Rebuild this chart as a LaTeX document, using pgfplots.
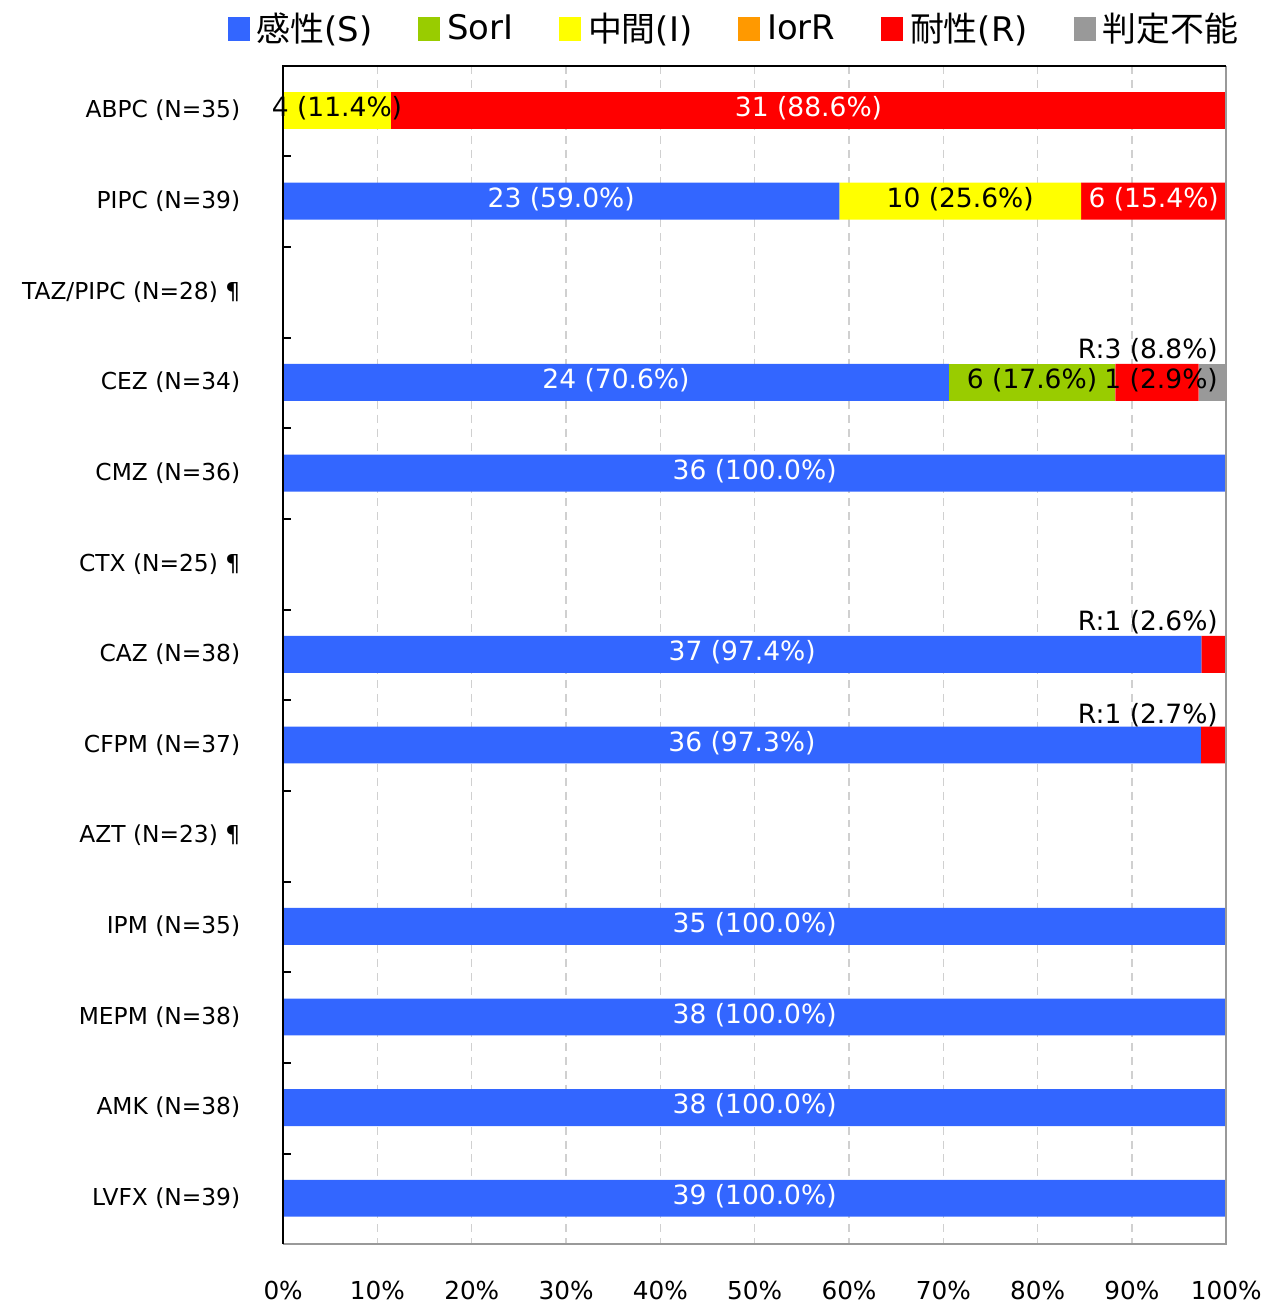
\documentclass[border=0pt]{standalone}
\usepackage{fontspec}
\setmainfont{DejaVu Sans}
\newfontfamily\cjk{Noto Sans CJK JP}
\usepackage{pgfplots}
\pgfplotsset{compat=1.18}
\usetikzlibrary{calc}

\definecolor{cS}{RGB}{51,102,255}
\definecolor{cSI}{RGB}{153,204,0}
\definecolor{cI}{RGB}{255,255,0}
\definecolor{cIR}{RGB}{255,153,0}
\definecolor{cR}{RGB}{255,0,0}
\definecolor{cNA}{RGB}{153,153,153}
\definecolor{cGrid}{RGB}{208,208,208}
\tikzset{lbl/.style={font=\fontsize{13.3}{15}\selectfont, inner sep=0pt, yshift=1pt}}

\begin{document}
\begin{tikzpicture}
\begin{axis}[
  xbar stacked, bar width=0.407,
  width=473pt, height=591pt, scale only axis,
  xmin=0, xmax=100, ymin=-0.493, ymax=12.507, y dir=reverse,
  axis line style={draw=none},
  xtick={0,10,...,100},
  xticklabels={0\%,10\%,20\%,30\%,40\%,50\%,60\%,70\%,80\%,90\%,100\%},
  xticklabel style={font=\fontsize{12.4}{14}\selectfont, yshift=-15pt},
  xmajorgrids, major grid style={draw=cGrid, dash pattern=on 4pt off 3pt, line width=0.6pt},
  major tick length=0pt, ytick pos=left,
  tick style={black, line width=1pt},
  ytick={0,...,12},
  yticklabels={ABPC (N=35), PIPC (N=39), TAZ/PIPC (N=28) ¶, CEZ (N=34), CMZ (N=36), CTX (N=25) ¶, CAZ (N=38), CFPM (N=37), AZT (N=23) ¶, IPM (N=35), MEPM (N=38), AMK (N=38), LVFX (N=39)},
  yticklabel style={font=\fontsize{11.7}{14}\selectfont, xshift=-18pt},
  extra y ticks={0.507,1.507,...,11.507}, extra y tick labels={},
  extra y tick style={major tick length=4pt, tick align=inside},
  legend columns=-1,
  legend style={draw=none, at={(0,1)}, anchor=west, xshift=-28pt, yshift=18.5pt,
    font=\fontsize{17}{20}\selectfont, inner sep=0pt,
    /tikz/every odd column/.append style={column sep=1.5pt},
    /tikz/every even column/.append style={column sep=21pt}},
  legend image code/.code={\fill (0pt,-6pt) rectangle (11pt,6pt);},
]
\addplot[fill=cS, draw=none] coordinates {(0,0) (58.97,1) (0,2) (70.59,3) (100,4) (0,5) (97.37,6) (97.30,7) (0,8) (100,9) (100,10) (100,11) (100,12)};
\addlegendentry{{\cjk 感性}(S)}
\addplot[fill=cSI, draw=none] coordinates {(0,0) (0,1) (0,2) (17.65,3) (0,4) (0,5) (0,6) (0,7) (0,8) (0,9) (0,10) (0,11) (0,12)};
\addlegendentry{SorI}
\addplot[fill=cI, draw=none] coordinates {(11.43,0) (25.64,1) (0,2) (0,3) (0,4) (0,5) (0,6) (0,7) (0,8) (0,9) (0,10) (0,11) (0,12)};
\addlegendentry{{\cjk 中間}(I)}
\addplot[fill=cIR, draw=none] coordinates {(0,0) (0,1) (0,2) (0,3) (0,4) (0,5) (0,6) (0,7) (0,8) (0,9) (0,10) (0,11) (0,12)};
\addlegendentry{IorR}
\addplot[fill=cR, draw=none] coordinates {(88.57,0) (15.38,1) (0,2) (8.82,3) (0,4) (0,5) (2.63,6) (2.70,7) (0,8) (0,9) (0,10) (0,11) (0,12)};
\addlegendentry{{\cjk 耐性}(R)}
\addplot[fill=cNA, draw=none] coordinates {(0,0) (0,1) (0,2) (2.94,3) (0,4) (0,5) (0,6) (0,7) (0,8) (0,9) (0,10) (0,11) (0,12)};
\addlegendentry{{\cjk 判定不能}}

\coordinate (l1) at (axis cs:5.71,0);
\coordinate (l2) at (axis cs:55.71,0);
\coordinate (l3) at (axis cs:29.49,1);
\coordinate (l4) at (axis cs:71.79,1);
\coordinate (l5) at (axis cs:92.31,1);
\coordinate (l6) at (axis cs:35.29,3);
\coordinate (l7) at (axis cs:79.41,3);
\coordinate (l8) at (axis cs:99.15,3);
\coordinate (l9) at (axis cs:99.15,2.67);
\coordinate (l10) at (axis cs:50,4);
\coordinate (l11) at (axis cs:48.68,6);
\coordinate (l12) at (axis cs:99.15,5.67);
\coordinate (l13) at (axis cs:48.65,7);
\coordinate (l14) at (axis cs:99.15,6.69);
\coordinate (l15) at (axis cs:50,9);
\coordinate (l16) at (axis cs:50,10);
\coordinate (l17) at (axis cs:50,11);
\coordinate (l18) at (axis cs:50,12);
\end{axis}
\node[lbl, text=black] at (l1) {4 (11.4\%)};
\node[lbl, text=white] at (l2) {31 (88.6\%)};
\node[lbl, text=white] at (l3) {23 (59.0\%)};
\node[lbl, text=black] at (l4) {10 (25.6\%)};
\node[lbl, text=white] at (l5) {6 (15.4\%)};
\node[lbl, text=white] at (l6) {24 (70.6\%)};
\node[lbl, text=black] at (l7) {6 (17.6\%)};
\node[lbl, text=black, anchor=east] at (l8) {1 (2.9\%)};
\node[lbl, text=black, anchor=east] at (l9) {R:3 (8.8\%)};
\node[lbl, text=white] at (l10) {36 (100.0\%)};
\node[lbl, text=white] at (l11) {37 (97.4\%)};
\node[lbl, text=black, anchor=east] at (l12) {R:1 (2.6\%)};
\node[lbl, text=white] at (l13) {36 (97.3\%)};
\node[lbl, text=black, anchor=east] at (l14) {R:1 (2.7\%)};
\node[lbl, text=white] at (l15) {35 (100.0\%)};
\node[lbl, text=white] at (l16) {38 (100.0\%)};
\node[lbl, text=white] at (l17) {38 (100.0\%)};
\node[lbl, text=white] at (l18) {39 (100.0\%)};
\draw[cNA, line width=1pt] (current axis.north east) -- (current axis.south east) -- (current axis.south west);
\draw[black, line width=1pt] (current axis.south west) -- (current axis.north west) -- (current axis.north east);
\pgfresetboundingbox
\path ($(current axis.south west)+(-142pt,-32pt)$) rectangle ($(current axis.north east)+(20pt,33pt)$);
\end{tikzpicture}
\end{document}
